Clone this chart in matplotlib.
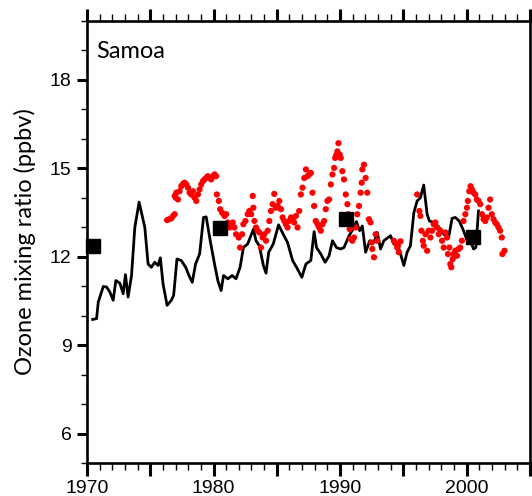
import matplotlib
matplotlib.use("Agg")
import matplotlib.pyplot as plt
from matplotlib.ticker import MultipleLocator

# running mean of surface ozone at Samoa
line_years = [1970.45, 1970.76, 1970.89, 1971.02, 1971.29, 1971.55, 1971.81, 1972.07,
              1972.28, 1972.60, 1972.86, 1973.04, 1973.25, 1973.52, 1973.78, 1974.12,
              1974.57, 1974.83, 1975.09, 1975.35, 1975.62, 1975.80, 1976.01, 1976.33,
              1976.67, 1976.85, 1977.11, 1977.45, 1977.80, 1978.06, 1978.32, 1978.58,
              1978.90, 1979.21, 1979.42, 1979.74, 1980.08, 1980.34, 1980.60, 1980.79,
              1981.13, 1981.47, 1981.78, 1982.10, 1982.36, 1982.70, 1983.15, 1983.36,
              1983.62, 1983.94, 1984.15, 1984.36, 1984.72, 1985.14, 1985.51, 1985.85,
              1986.25, 1986.56, 1986.98, 1987.30, 1987.69, 1987.95, 1988.14, 1988.48,
              1988.82, 1989.13, 1989.40, 1989.71, 1990.05, 1990.31, 1990.71, 1991.02,
              1991.29, 1991.55, 1991.76, 1992.02, 1992.34, 1992.68, 1992.94, 1993.20,
              1993.46, 1993.73, 1993.99, 1994.25, 1994.51, 1994.78, 1995.04, 1995.30,
              1995.56, 1995.83, 1996.09, 1996.35, 1996.61, 1996.88, 1997.06, 1997.40,
              1997.80, 1998.19, 1998.58, 1998.85, 1999.11, 1999.42, 1999.76, 2000.03,
              2000.29, 2000.55, 2000.73, 2000.94]
line_ppbv = [9.87, 9.90, 10.46, 10.63, 10.99, 10.97, 10.80, 10.52,
             11.19, 11.10, 10.74, 11.39, 10.63, 11.36, 12.99, 13.85,
             12.99, 11.75, 11.64, 11.81, 11.70, 11.96, 11.08, 10.35,
             10.52, 10.69, 11.92, 11.87, 11.64, 11.36, 11.13, 11.75,
             12.09, 13.33, 13.35, 12.54, 11.75, 11.19, 10.85, 11.36,
             11.25, 11.36, 11.25, 11.64, 12.31, 12.43, 12.93, 12.54,
             12.37, 11.70, 11.44, 12.15, 12.43, 13.08, 12.76, 12.48,
             11.87, 11.64, 11.30, 11.75, 11.87, 12.85, 12.31, 12.09,
             11.81, 12.03, 12.54, 12.31, 12.26, 12.31, 12.71, 12.93,
             13.19, 12.88, 13.04, 12.15, 12.54, 12.48, 12.82, 12.26,
             12.54, 12.63, 12.71, 12.43, 12.48, 12.09, 11.70, 12.15,
             12.37, 13.49, 13.89, 14.00, 14.43, 13.44, 13.21, 13.16,
             13.01, 12.76, 12.65, 13.30, 13.33, 13.21, 12.88, 12.56,
             12.54, 12.26, 12.31, 13.55]

# monthly model values
dot_years = [1976.33, 1976.48, 1976.67, 1976.80, 1976.93, 1976.93, 1977.06, 1977.01,
             1977.19, 1977.32, 1977.45, 1977.59, 1977.72, 1977.85, 1977.98, 1978.11,
             1978.24, 1978.37, 1978.50, 1978.64, 1978.77, 1978.90, 1979.03, 1979.16,
             1979.29, 1979.42, 1979.55, 1979.69, 1979.82, 1979.95, 1980.08, 1980.21,
             1980.26, 1980.42, 1980.52, 1980.68, 1980.87, 1981.00, 1981.13, 1981.26,
             1981.39, 1981.52, 1981.65, 1981.78, 1981.99, 1982.10, 1982.26, 1982.36,
             1982.52, 1982.70, 1982.83, 1982.97, 1983.10, 1983.15, 1983.23, 1983.36,
             1983.49, 1983.62, 1983.75, 1983.88, 1984.02, 1984.15, 1984.28, 1984.41,
             1984.54, 1984.67, 1984.80, 1984.93, 1985.07, 1985.20, 1985.33, 1985.46,
             1985.59, 1985.72, 1985.85, 1985.98, 1986.12, 1986.25, 1986.38, 1986.51,
             1986.64, 1986.77, 1986.90, 1987.03, 1987.17, 1987.30, 1987.43, 1987.56,
             1987.69, 1987.82, 1987.95, 1988.08, 1988.22, 1988.35, 1988.48, 1988.61,
             1988.74, 1988.87, 1989.00, 1989.13, 1989.27, 1989.40, 1989.53, 1989.61,
             1989.71, 1989.79, 1989.87, 1989.97, 1990.05, 1990.18, 1990.31, 1990.45,
             1990.58, 1990.66, 1990.76, 1990.84, 1990.97, 1991.10, 1991.23, 1991.36,
             1991.50, 1991.63, 1991.71, 1991.76, 1991.89, 1992.02, 1992.15, 1992.28,
             1992.41, 1992.49, 1992.55, 1992.68, 1992.81, 1992.94,
             1994.25, 1994.38, 1994.51, 1994.57, 1994.64, 1994.78,
             1996.09, 1996.27, 1996.35, 1996.43, 1996.54, 1996.61, 1996.75, 1996.88,
             1997.01, 1997.14, 1997.27, 1997.40, 1997.53, 1997.66, 1997.80, 1997.93,
             1998.06, 1998.19, 1998.32, 1998.45, 1998.53, 1998.64, 1998.71, 1998.79,
             1998.90, 1998.98, 1999.11, 1999.24, 1999.37, 1999.50, 1999.63, 1999.76,
             1999.90, 2000.03, 2000.10, 2000.21, 2000.31, 2000.42, 2000.55, 2000.68,
             2000.81, 2000.94, 2001.08, 2001.21, 2001.34, 2001.47, 2001.60, 2001.73,
             2001.86, 2001.99, 2002.13, 2002.26, 2002.39, 2002.52, 2002.65, 2002.78,
             2002.83, 2002.99]
dot_ppbv = [13.24, 13.27, 13.30, 13.38, 13.44, 14.06, 14.17, 14.00,
            13.94, 14.22, 14.39, 14.47, 14.51, 14.45, 14.34, 14.17,
            14.11, 14.22, 14.00, 13.89, 14.11, 14.28, 14.45, 14.56,
            14.62, 14.67, 14.73, 14.67, 14.62, 14.73, 14.79, 14.73,
            14.11, 13.89, 13.61, 13.49, 13.38, 13.44, 13.16, 12.99,
            13.10, 13.16, 12.99, 12.76, 12.65, 12.31, 12.76, 13.10,
            13.21, 13.44, 13.55, 13.44, 14.06, 13.66, 13.21, 12.99,
            12.88, 12.82, 12.31, 12.65, 12.76, 12.54, 12.88, 13.21,
            13.55, 13.78, 14.13, 13.66, 13.72, 13.89, 13.61, 13.33,
            13.21, 13.10, 12.99, 13.21, 13.33, 13.27, 13.16, 13.38,
            12.99, 13.55, 14.11, 14.34, 14.67, 14.96, 14.73, 14.79,
            14.84, 14.17, 13.72, 13.21, 13.10, 12.99, 12.88, 13.10,
            13.21, 13.61, 13.89, 13.94, 14.45, 14.79, 15.01, 15.35,
            15.46, 15.57, 15.85, 15.46, 15.35, 14.90, 14.62, 14.11,
            13.78, 13.44, 12.93, 12.60, 12.54, 12.65, 12.99, 13.44,
            13.72, 14.17, 14.51, 14.96, 15.12, 14.67, 14.17, 13.27,
            13.16, 12.48, 12.26, 11.98, 12.76, 12.54,
            12.54, 12.45, 12.31, 12.37, 12.15, 12.52,
            14.11, 13.55, 13.38, 12.88, 12.54, 12.37, 12.76, 12.20,
            12.88, 12.65, 12.88, 13.10, 13.16, 12.99, 12.76, 12.88,
            12.54, 12.31, 12.82, 12.65, 12.09, 12.31, 11.75, 11.64,
            11.92, 12.09, 12.20, 12.03, 12.26, 12.31, 12.54, 13.21,
            13.44, 13.66, 13.89, 14.22, 14.39, 14.28, 14.17, 14.11,
            13.94, 13.89, 13.78, 13.44, 13.27, 13.21, 13.33, 13.66,
            13.94, 13.44, 13.27, 13.16, 13.10, 12.99, 12.88, 12.65,
            12.09, 12.20]

# decadal means
box_years = [1970.5, 1980.5, 1990.5, 2000.5]
box_ppbv = [12.37, 12.97, 13.29, 12.68]

plt.rcParams['font.family'] = ['Liberation Sans', 'DejaVu Sans']

fig = plt.figure(figsize=(5.32, 4.96), dpi=100)
ax = fig.add_axes([0.1635, 0.0665, 0.8325, 0.8915])

ax.plot(line_years, line_ppbv, color='black', lw=2.0, zorder=2)
ax.scatter(dot_years, dot_ppbv, s=20, color='#ff0000', edgecolors='none', zorder=3)
ax.plot(box_years, box_ppbv, 's', color='black', ms=10, clip_on=False, zorder=4)

ax.set_xlim(1970, 2005)
ax.set_ylim(5, 20)

# long ticks every 5 years, labels every decade
ax.set_xticks([1970, 1975, 1980, 1985, 1990, 1995, 2000, 2005])
ax.set_xticklabels(['1970', '', '1980', '', '1990', '', '2000', ''])
ax.xaxis.set_minor_locator(MultipleLocator(1))
ax.set_yticks([6, 9, 12, 15, 18])
ax.yaxis.set_minor_locator(MultipleLocator(1))

ax.tick_params(axis='x', which='major', direction='out', length=9, width=2.2,
               top=True, labelsize=14, pad=3)
ax.tick_params(axis='x', which='minor', direction='out', length=5, width=1, top=True)
ax.tick_params(axis='y', which='major', direction='out', length=7, width=2.2,
               right=False, labelsize=14, pad=4)
ax.tick_params(axis='y', which='minor', direction='out', length=4, width=1, right=False)

for sp in ax.spines.values():
    sp.set_linewidth(1.9)

ax.set_ylabel('Ozone mixing ratio (ppbv)', fontsize=17,
              family=['Lato', 'DejaVu Sans'])
ax.yaxis.set_label_coords(-0.115, 0.5)
ax.text(0.02, 0.955, 'Samoa', transform=ax.transAxes, fontsize=17,
        family=['Lato', 'DejaVu Sans'], va='top', ha='left')

fig.savefig('out.png', dpi=100)
